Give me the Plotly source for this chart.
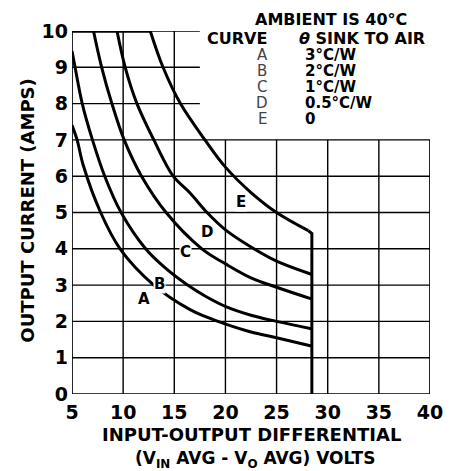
import plotly.graph_objects as go

# ---- data ----
curve_names = ["A", "B", "C", "D", "E"]
A_v = [5.0, 5.5, 6.1, 7.8, 9.7, 13.0, 16.5, 18.0, 20.1, 22.5, 25.0, 28.4]
A_a = [7.4, 7.0, 6.3, 5.0, 4.0, 3.0, 2.33, 2.14, 1.92, 1.71, 1.55, 1.32]
B_v = [5.0, 5.3, 6.0, 7.0, 8.2, 9.8, 12.2, 14.0, 16.3, 18.0, 20.1, 22.5, 25.0, 28.4]
B_a = [9.45, 9.0, 8.0, 7.0, 6.0, 5.0, 4.0, 3.5, 3.0, 2.7, 2.4, 2.17, 2.0, 1.8]
C_v = [7.1, 7.9, 8.9, 10.1, 11.8, 14.2, 17.7, 20.1, 22.5, 25.0, 28.4]
C_a = [10.0, 9.0, 8.0, 7.0, 6.0, 5.0, 4.0, 3.57, 3.2, 2.94, 2.62]
D_v = [9.4, 10.2, 11.35, 13.0, 14.9, 16.5, 18.2, 20.1, 22.5, 25.0, 28.4]
D_a = [10.0, 9.0, 8.0, 7.0, 6.0, 5.55, 5.0, 4.5, 4.05, 3.66, 3.30]
E_v = [12.65, 13.9, 15.6, 18.0, 20.0, 22.5, 25.0, 28.1]
E_a = [10.0, 9.0, 8.0, 7.0, 6.25, 5.55, 5.0, 4.5]
limit_v = [28.1, 28.45, 28.45]         # max differential voltage limit
limit_a = [4.5, 4.42, 0.0]
top_v = [5.0, 12.65]                   # 10 A current limit
top_a = [10.0, 10.0]

x_ticks = [5, 10, 15, 20, 25, 30, 35, 40]
y_ticks = [0, 1, 2, 3, 4, 5, 6, 7, 8, 9, 10]
legend_rows = ["A", "B", "C", "D", "E"]
legend_vals = ["3°C/W", "2°C/W", "1°C/W", "0.5°C/W", "0"]

label_pos_v = [12.0, 13.6, 16.1, 18.2, 21.5]
label_pos_a = [2.63, 3.02, 3.9, 4.45, 5.3]

FONT = "DejaVu Sans"
fig = go.Figure()

# grid (upper right region is left blank for the legend)
shapes = []
for xv in x_ticks:
    top = 10 if xv <= 15 else 7
    w = 1.7 if xv in (5, 40) else 1.4
    shapes.append(dict(type="line", xref="x", yref="y", x0=xv, x1=xv, y0=0, y1=top,
                       line=dict(color="black", width=w), layer="below"))
for yv in y_ticks:
    right = 40 if yv <= 7 else 17.5
    w = 1.7 if yv == 0 else 1.4
    shapes.append(dict(type="line", xref="x", yref="y", x0=5, x1=right, y0=yv, y1=yv,
                       line=dict(color="black", width=w), layer="below"))

series = [(A_v, A_a), (B_v, B_a), (C_v, C_a), (D_v, D_a), (E_v, E_a)]
for name, (vv, aa) in zip(curve_names, series):
    fig.add_trace(go.Scatter(x=vv, y=aa, mode="lines", name=name,
                             line=dict(color="black", width=3, shape="spline", smoothing=1.0),
                             hoverinfo="skip"))
fig.add_trace(go.Scatter(x=limit_v, y=limit_a, mode="lines",
                         line=dict(color="black", width=3), hoverinfo="skip"))
fig.add_trace(go.Scatter(x=top_v, y=top_a, mode="lines",
                         line=dict(color="black", width=3.5), hoverinfo="skip"))

ann = []
for name, lv, la in zip(curve_names, label_pos_v, label_pos_a):
    ann.append(dict(x=lv, y=la, xref="x", yref="y", text=name, showarrow=False,
                    font=dict(family=FONT, size=15, color="black", weight="bold"),
                    bgcolor="white", borderpad=0))

# legend block (paper coords: plot area spans x 5..40 and y 0..10)
def px(v):
    return (v - 5) / 35.0

def py(a):
    return a / 10.0

LF = dict(family=FONT, size=16, color="black", weight="bold")
ann.append(dict(x=0.723, y=1.031, xref="paper", yref="paper", text="AMBIENT IS 40°C",
                showarrow=False, font=LF, xanchor="center", yanchor="middle"))
ann.append(dict(x=px(18.0), y=py(9.79), xref="paper", yref="paper", text="CURVE",
                showarrow=False, font=LF, xanchor="left", yanchor="middle"))
ann.append(dict(x=px(27.0), y=py(9.79), xref="paper", yref="paper",
                text="<i>θ</i> SINK TO AIR", showarrow=False, font=LF,
                xanchor="left", yanchor="middle"))
row_a = [9.33, 8.90, 8.47, 8.01, 7.58]
for r, val, ya in zip(legend_rows, legend_vals, row_a):
    ann.append(dict(x=px(23.6), y=py(ya), xref="paper", yref="paper", text=r,
                    showarrow=False, xanchor="center", yanchor="middle",
                    font=dict(family=FONT, size=15, color="#444")))
    ann.append(dict(x=px(27.6), y=py(ya), xref="paper", yref="paper", text=val,
                    showarrow=False, xanchor="left", yanchor="middle",
                    font=dict(family=FONT, size=15, color="black", weight="bold")))

# axis titles
ann.append(dict(x=-0.123, y=0.505, xref="paper", yref="paper", text="OUTPUT CURRENT (AMPS)",
                textangle=-90, showarrow=False, xanchor="center", yanchor="middle",
                font=dict(family=FONT, size=18, color="black", weight="bold")))
ann.append(dict(x=0.5, y=-0.112, xref="paper", yref="paper", text="INPUT-OUTPUT DIFFERENTIAL",
                showarrow=False, yanchor="middle",
                font=dict(family=FONT, size=18, color="black", weight="bold")))
ann.append(dict(x=0.51, y=-0.181, xref="paper", yref="paper",
                text="(V<sub>IN</sub> AVG - V<sub>O</sub> AVG) VOLTS",
                showarrow=False, yanchor="middle",
                font=dict(family=FONT, size=17, color="black", weight="bold")))

fig.update_layout(
    width=463, height=463,
    margin=dict(l=64, r=41, t=15, b=77),
    paper_bgcolor="white", plot_bgcolor="white",
    showlegend=False,
    shapes=shapes, annotations=ann,
    xaxis=dict(range=[5, 40], tickvals=x_ticks, showgrid=False, zeroline=False,
               showline=False, ticks="", ticklabelstandoff=5,
               tickfont=dict(family=FONT, size=19, color="black", weight="bold")),
    yaxis=dict(range=[0, 10], tickvals=y_ticks, showgrid=False, zeroline=False,
               showline=False, ticks="", ticklabelstandoff=3,
               tickfont=dict(family=FONT, size=19, color="black", weight="bold")),
)

fig.write_html("out.html")
